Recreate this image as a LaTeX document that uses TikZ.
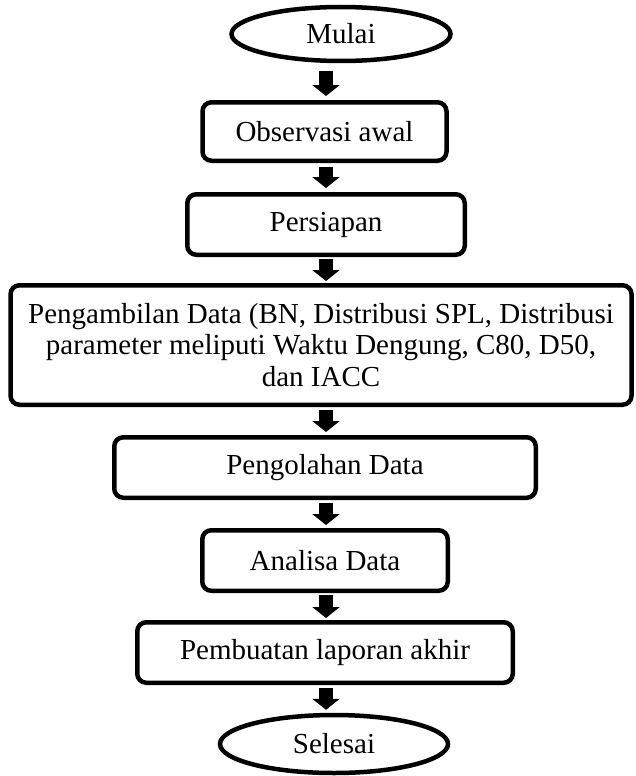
\documentclass[tikz,border=0pt]{standalone}
\usepackage{fontspec}
\setmainfont{Liberation Serif}
\usetikzlibrary{shapes.geometric,arrows.meta}
\begin{document}
\begin{tikzpicture}[x=1pt,y=-1pt,
  box/.style={draw, line width=4.5pt, rounded corners=9pt, inner sep=0pt, align=center, font=\fontsize{29}{31.5}\selectfont},
  term/.style={draw, ellipse, line width=4.5pt, inner sep=0pt, font=\fontsize{29}{31.5}\selectfont},
  blockarrow/.style={line width=14pt, -{Triangle[width=27pt,length=11pt]}}]
\useasboundingbox (0,0) rectangle (635,776);
\node[term, minimum width=219pt, minimum height=54pt] (mulai) at (341,34) {Mulai};
\node[box, minimum width=244pt, minimum height=58.5pt] (obs) at (324.5,131.5) {Observasi awal};
\node[box, minimum width=277.5pt, minimum height=60.5pt] (pers) at (326,224.5) {Persiapan};
\node[box, minimum width=621pt, minimum height=119.5pt] (ambil) at (321,345) {Pengambilan Data (BN, Distribusi SPL, Distribusi\\parameter meliputi Waktu Dengung, C80, D50,\\dan IACC};
\node[box, minimum width=421.5pt, minimum height=60.5pt] (olah) at (325,467.5) {Pengolahan Data};
\node[box, minimum width=245.5pt, minimum height=60.5pt] (anal) at (325,560.5) {Analisa Data};
\node[box, minimum width=375.5pt, minimum height=60.5pt] (buat) at (325,652.5) {Pembuatan laporan akhir};
\node[term, minimum width=228pt, minimum height=58pt] (sel) at (334,744) {Selesai};
\coordinate (ax) at (326,0);
\draw[blockarrow, shorten <=8pt, shorten >=4pt] (mulai.south -| ax) -- (obs.north -| ax);
\draw[blockarrow, shorten <=4pt, shorten >=4pt] (obs.south -| ax) -- (pers.north -| ax);
\draw[blockarrow, shorten <=2pt, shorten >=2pt] (pers.south -| ax) -- (ambil.north -| ax);
\draw[blockarrow, shorten <=3pt, shorten >=3pt] (ambil.south -| ax) -- (olah.north -| ax);
\draw[blockarrow, shorten <=3pt, shorten >=3pt] (olah.south -| ax) -- (anal.north -| ax);
\draw[blockarrow, shorten <=2pt, shorten >=2pt] (anal.south -| ax) -- (buat.north -| ax);
\draw[blockarrow, shorten <=3pt, shorten >=3pt] (buat.south -| ax) -- (sel.north -| ax);
\end{tikzpicture}
\end{document}
